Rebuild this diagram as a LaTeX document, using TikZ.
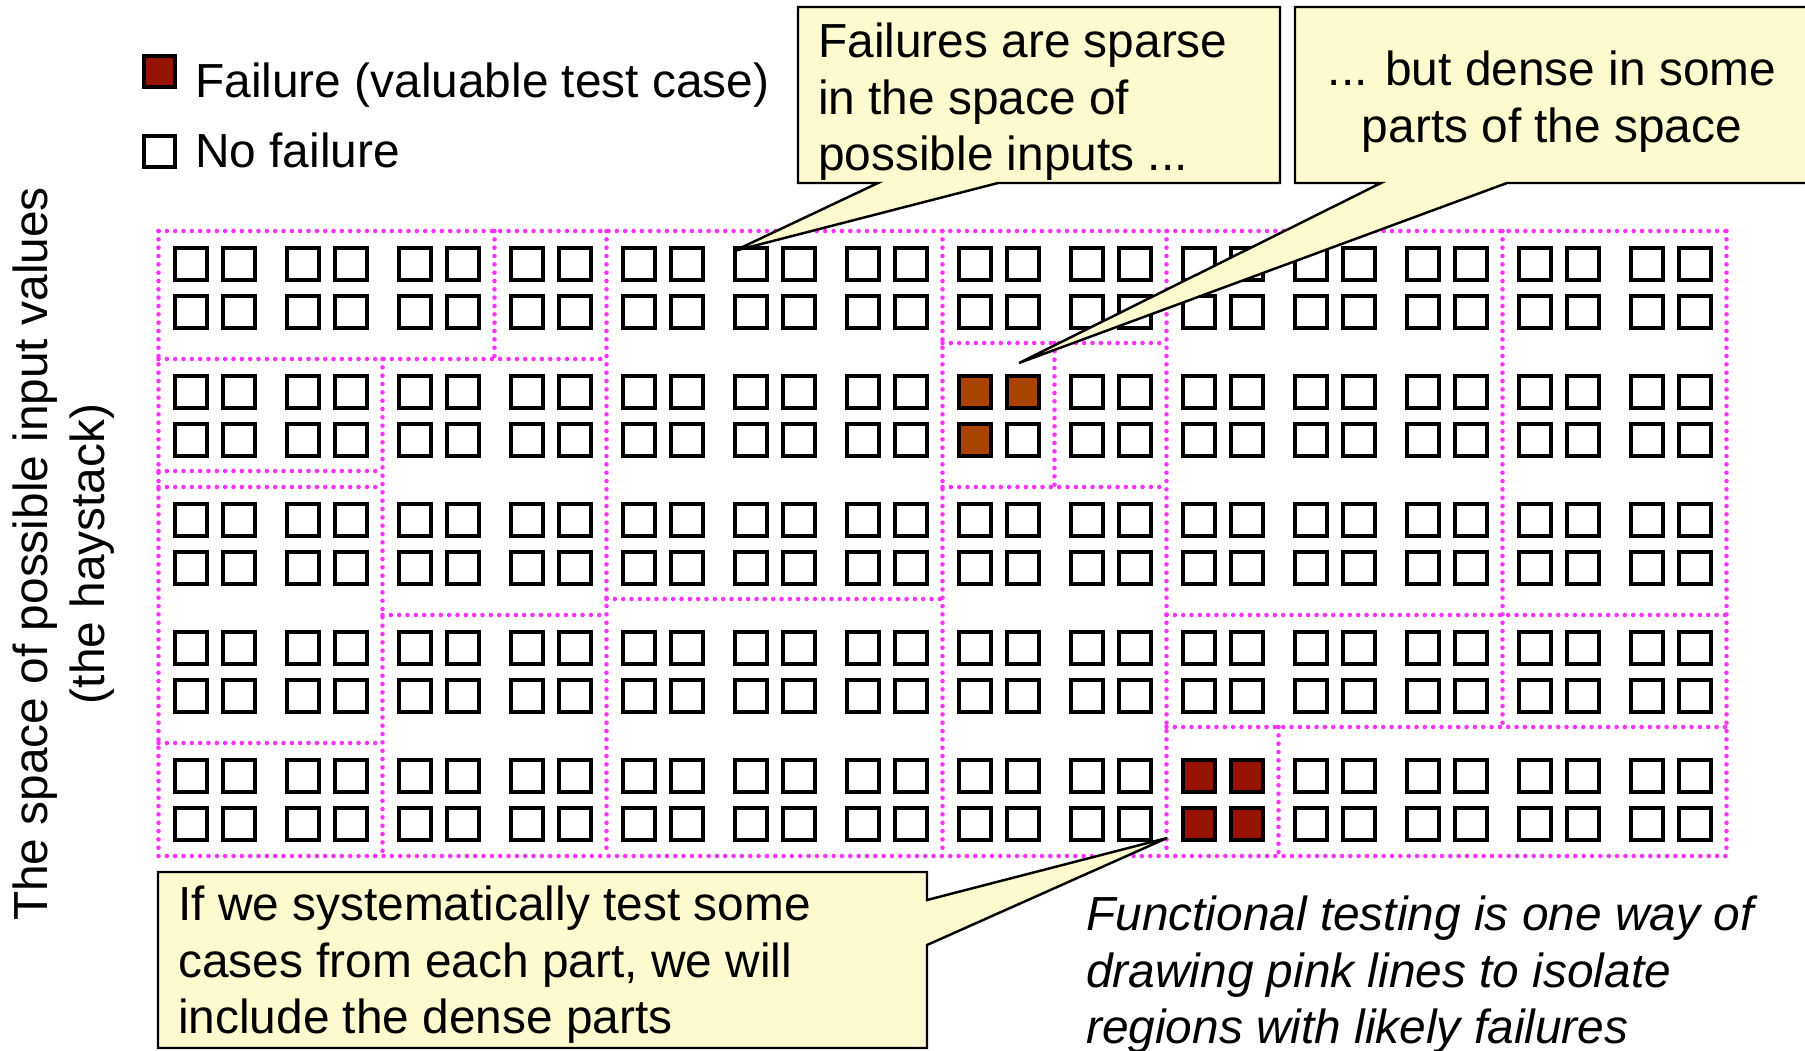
\documentclass[tikz,border=0pt]{standalone}
\usepackage{fontspec}
\setmainfont{Liberation Sans}
\usepackage{tikz}
\definecolor{pinkline}{RGB}{255,51,255}
\definecolor{failred}{RGB}{149,19,0}
\definecolor{failorange}{RGB}{168,67,0}
\definecolor{notefill}{RGB}{252,250,206}

\begin{document}
\begin{tikzpicture}[x=0.01cm,y=-0.01cm,
  case/.style={draw=black,line width=1.14pt},
  part/.style={draw=pinkline,line width=1.3pt,line cap=round,dash pattern=on 0pt off 2.37pt},
  note/.style={draw=black,fill=notefill,line width=0.7pt,line join=miter},
  txt/.style={inner sep=0pt,font=\fontsize{13.6}{16.1}\selectfont}]
\useasboundingbox (0,0) rectangle (1805,1051);

\foreach \c in {0,...,13}
  \foreach \r in {0,...,4}
    \foreach \i in {0,1}
      \foreach \j in {0,1}
        \draw[case] ({175+112*\c+48*\i},{248+128*\r+48*\j}) rectangle ++(32,32);

\foreach \i/\j in {0/0,1/0,0/1}
  \draw[case,fill=failorange] ({175+112*7+48*\i},{248+128+48*\j}) rectangle ++(32,32);
\foreach \i/\j in {0/0,1/0,0/1,1/1}
  \draw[case,fill=failred] ({175+112*9+48*\i},{248+512+48*\j}) rectangle ++(32,32);

\foreach \y/\a/\b in {231/0/14,359/0/4,343/7/9,471/0/2,487/0/2,487/7/9,
    599/4/7,615/2/4,615/9/14,727/9/14,743/0/2,856/0/14}
  \draw[part] ({158.5+112*\a},\y) -- ({158.5+112*\b},\y);
\foreach \c/\a/\b in {0/231/856,2/359/856,3/231/359,4/231/856,7/231/856,
    8/343/487,9/231/856,10/727/856,12/231/727,14/231/856}
  \draw[part] ({158.5+112*\c},\a) -- ({158.5+112*\c},\b);

\draw[case,fill=failred] (144,56) rectangle (175,87);
\draw[case] (144,136) rectangle (175,167);
\node[txt,anchor=base west] (failure) at (194.5,97) {Failure (valuable test case)};
\node[txt,anchor=base west] (nofailure) at (194.5,167) {No failure};

\node[txt,rotate=90,anchor=north,align=center] (haystack) at (7.4,554)
  {\strut The space of possible input values\\(the haystack)};

\coordinate (sparsetip) at (734,251);
\coordinate (densetip) at (1019,363);
\coordinate (parttip) at (1167,838);

\draw[note] (798,7) -- (1280,7) -- (1280,183) -- (998,183) -- (sparsetip)
  -- (878,183) -- (798,183) -- cycle;
\draw[note] (1295,7) -- (1808,7) -- (1808,183) -- (1507,183) -- (densetip)
  -- (1381,183) -- (1295,183) -- cycle;
\draw[note] (158,872) -- (927,872) -- (927,900) -- (parttip) -- (927,945)
  -- (927,1048) -- (158,1048) -- cycle;

\node[txt,anchor=north west,align=left] (sparse) at (817.5,17.4)
  {\strut Failures are sparse\\in the space of\\possible inputs ...};
\node[txt,anchor=north,align=center] (dense) at (1552,45.4)
  {\strut ... but dense in some\\parts of the space};
\node[txt,anchor=north west,align=left] (systematic) at (177.5,880.4)
  {\strut If we systematically test some\\cases from each part, we will\\include the dense parts};
\node[txt,font=\fontsize{13.6}{16.1}\selectfont\itshape,anchor=north west,align=left]
  (functional) at (1085.5,890.4)
  {\strut Functional testing is one way of\\drawing pink lines to isolate\\regions with likely failures};
\end{tikzpicture}
\end{document}
